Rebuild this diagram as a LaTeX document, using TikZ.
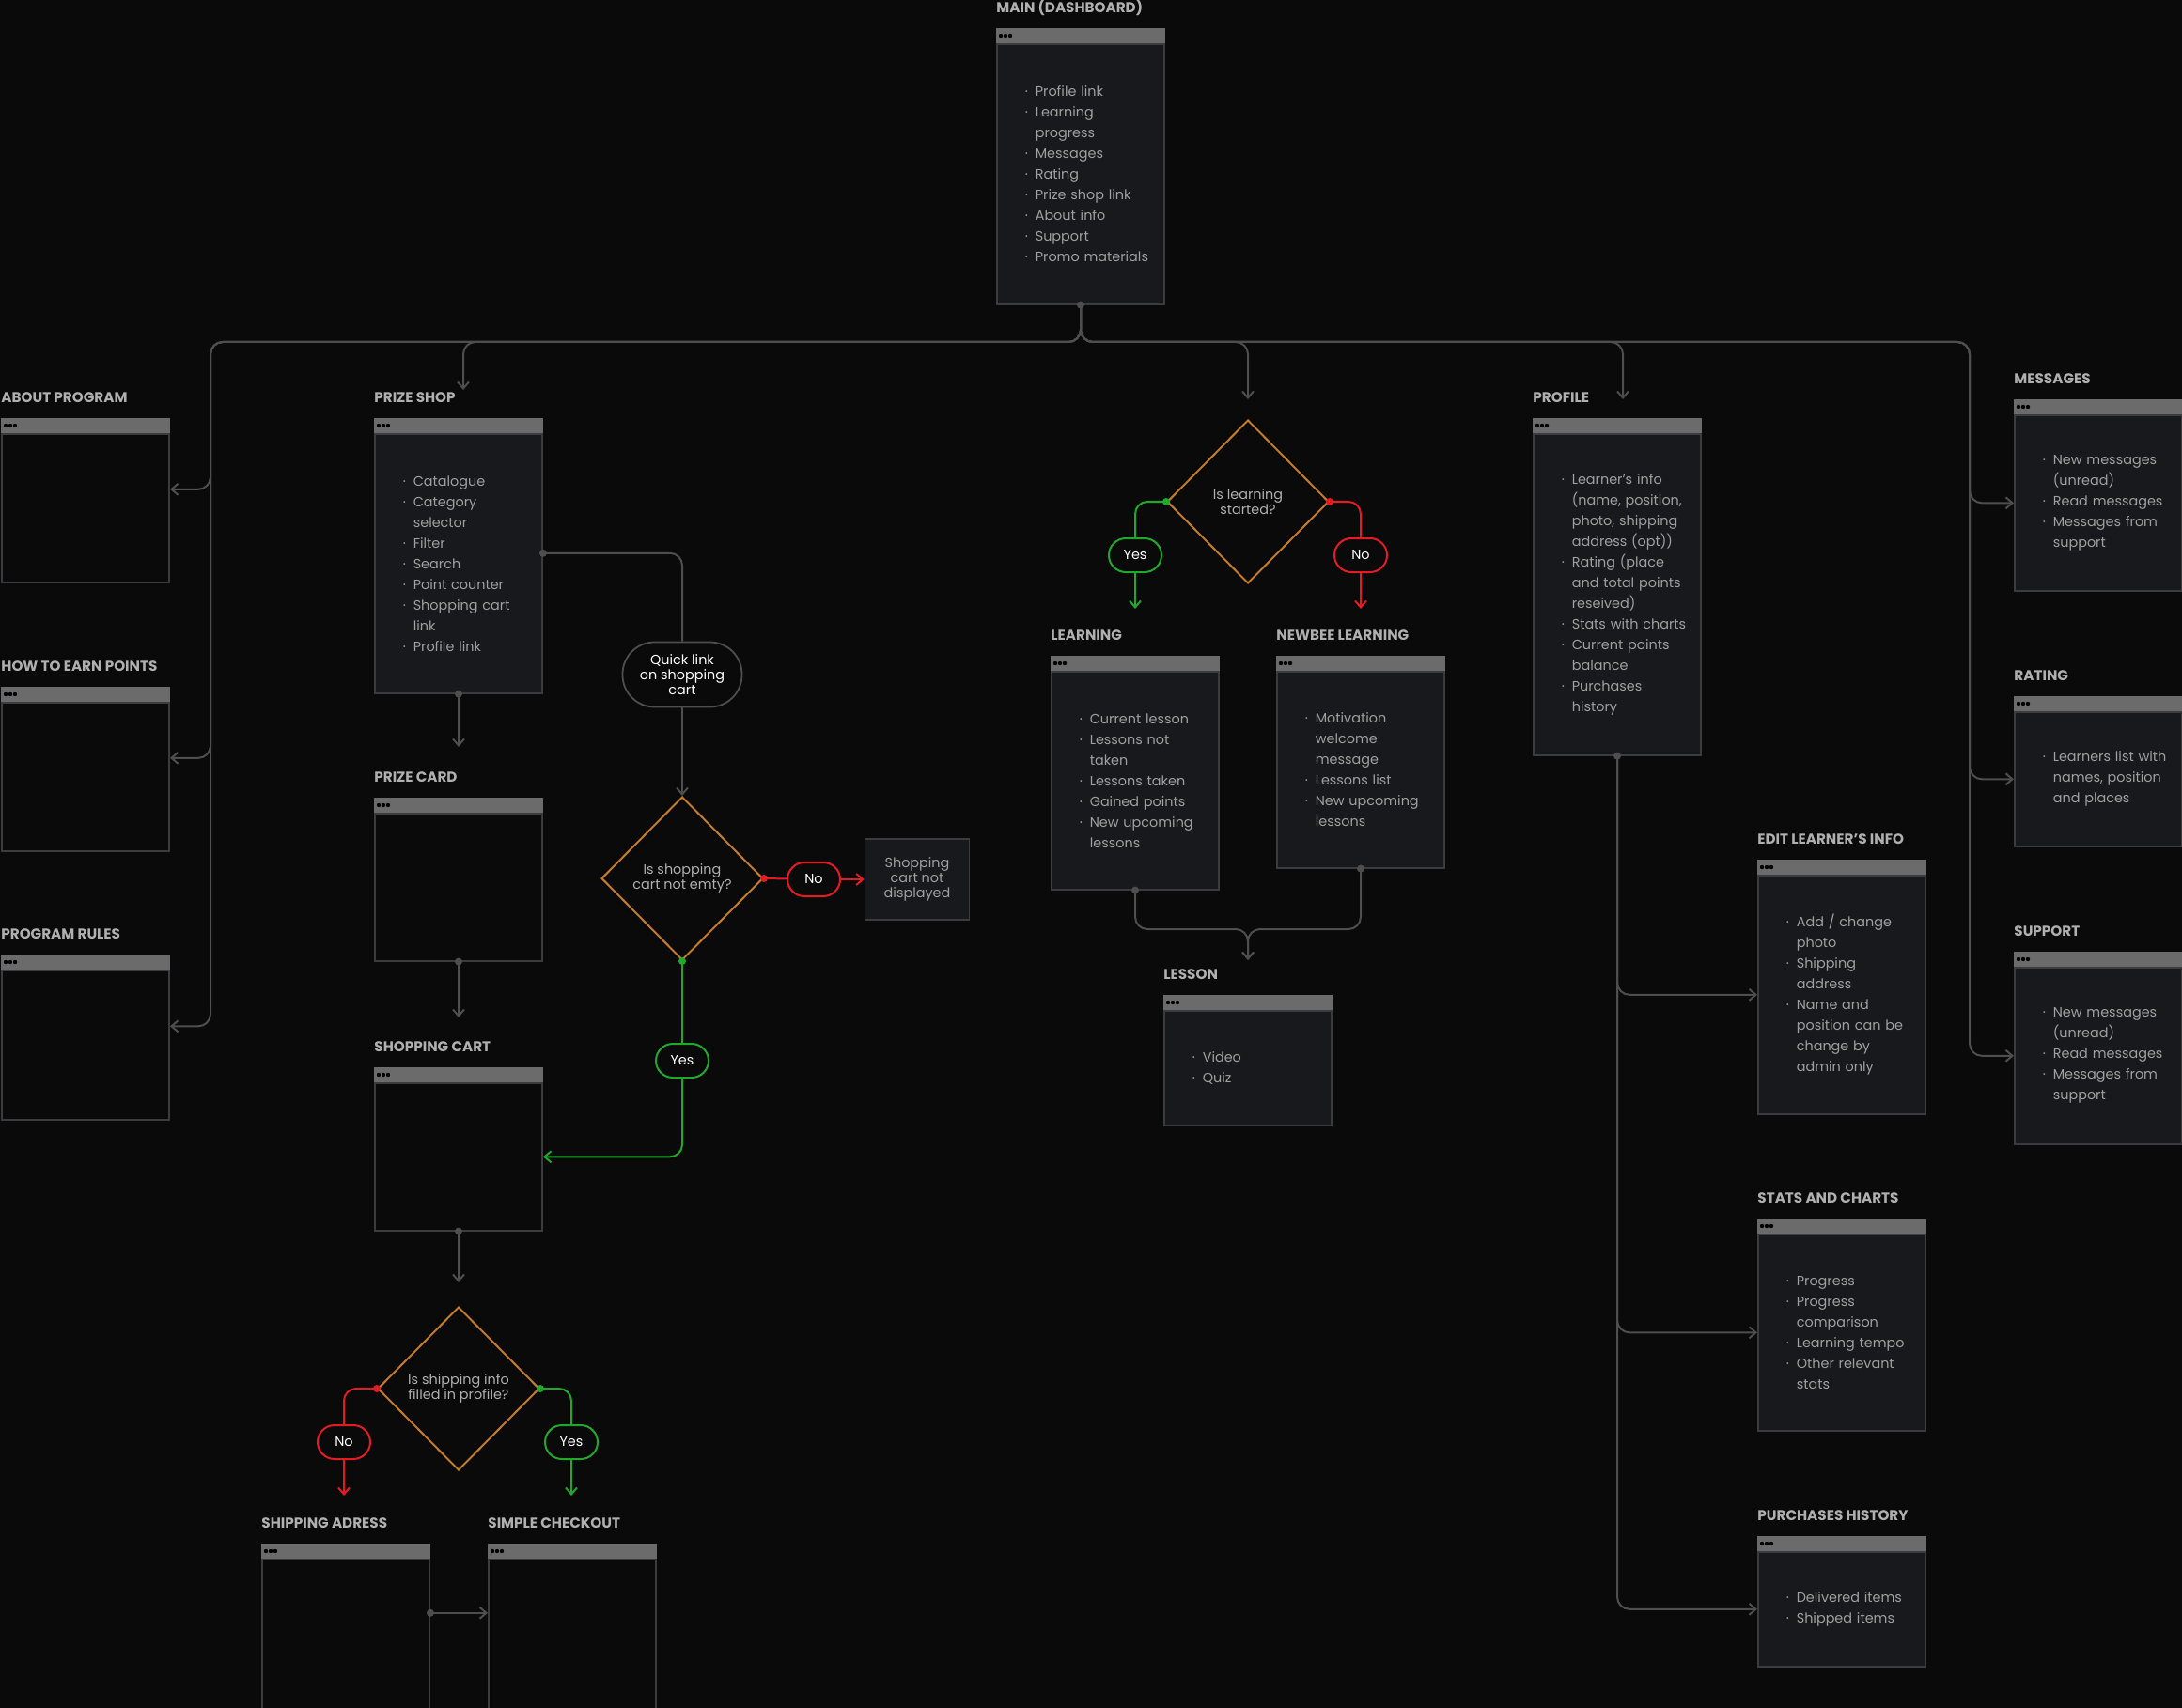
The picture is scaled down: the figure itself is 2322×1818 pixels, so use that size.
\documentclass[tikz,border=0pt]{standalone}
\usepackage{fontspec}
\setmainfont{Poppins}
\usetikzlibrary{positioning, arrows.meta, calc, shapes.geometric}
\definecolor{bg}{HTML}{0A0A0A}
\definecolor{winfill}{HTML}{18191C}
\definecolor{winline}{HTML}{3C3C3E}
\definecolor{barcol}{HTML}{6B6B6B}
\definecolor{linecol}{HTML}{4E4E4E}
\definecolor{ttlcol}{HTML}{B0B0B0}
\definecolor{itemcol}{HTML}{A0A0A0}
\definecolor{decide}{HTML}{C27A2C}
\definecolor{okgreen}{HTML}{1FA82A}
\definecolor{nored}{HTML}{E31B23}
\newcommand{\itm}[1]{\hspace*{15pt}\makebox[5.5pt][l]{·}\mbox{#1}}
\newcommand{\nxt}[1]{\hspace*{20.5pt}\mbox{#1}}
\tikzset{
  win/.style={
    draw=winline, line width=0.8pt, fill=winfill, anchor=north west,
    text width=89.2pt, inner xsep=0pt, inner ysep=0pt, align=left,
    text=itemcol, font=\fontsize{7.2}{11}\selectfont
  },
  emptywin/.style={win, fill=bg},
  ttl/.style={anchor=west, inner sep=0pt, yshift=19pt, text=ttlcol,
    font=\fontsize{7.6}{9}\selectfont\bfseries},
  decision/.style={diamond, draw=decide, line width=1pt, inner sep=0pt,
    minimum width=86pt, minimum height=87pt, align=center, text=ttlcol,
    font=\fontsize{7.2}{8}\selectfont},
  pill/.style={draw=#1, fill=bg, line width=1pt, rounded corners=9pt,
    minimum width=28pt, minimum height=18pt, inner sep=0pt, text=white,
    font=\fontsize{7.2}{9}\selectfont},
  quicklink/.style={draw=linecol, fill=bg, line width=0.9pt, rounded corners=17pt,
    minimum width=63.5pt, minimum height=34.5pt, inner sep=0pt, align=center,
    text=white, font=\fontsize{7.2}{8}\selectfont},
  note/.style={draw=winline, fill=winfill, line width=0.8pt, minimum width=55.5pt,
    minimum height=43pt, inner sep=0pt, align=center, text=itemcol,
    font=\fontsize{7.2}{8}\selectfont},
  line/.style={draw=linecol, line width=1pt, rounded corners=6.5pt},
  flow/.style={line, -{Straight Barb[length=3.5pt, width=6pt]}},
  yline/.style={line, draw=okgreen},
  ytip/.style={flow, draw=okgreen},
  nline/.style={line, draw=nored},
  ntip/.style={flow, draw=nored},
}

\begin{document}
\begin{tikzpicture}[x=0.5pt, y=-0.5pt]
  \fill[bg] (0,0) rectangle (2322,1818);
  \useasboundingbox (0,0) rectangle (2322,1818);

  % screens
  \node[win, minimum height=138.5pt, label={[ttl, name=main-t]north west:MAIN (DASHBOARD)}] (main) at (1060,46)
    {\itm{Profile link}\\ \itm{Learning}\\ \nxt{progress}\\ \itm{Messages}\\ \itm{Rating}\\
     \itm{Prize shop link}\\ \itm{About info}\\ \itm{Support}\\ \itm{Promo materials}};

  \node[emptywin, minimum height=79pt, label={[ttl, name=about-t]north west:ABOUT PROGRAM}] (about) at (1,461) {};
  \node[emptywin, minimum height=79pt, label={[ttl, name=howto-t]north west:HOW TO EARN POINTS}] (howto) at (1,747) {};
  \node[emptywin, minimum height=79.5pt, label={[ttl, name=rules-t]north west:PROGRAM RULES}] (rules) at (1,1032) {};

  \node[win, minimum height=138pt, label={[ttl, name=prize-t]north west:PRIZE SHOP}] (prize) at (398,461)
    {\itm{Catalogue}\\ \itm{Category}\\ \nxt{selector}\\ \itm{Filter}\\ \itm{Search}\\
     \itm{Point counter}\\ \itm{Shopping cart}\\ \nxt{link}\\ \itm{Profile link}};
  \node[emptywin, minimum height=78.5pt, label={[ttl, name=card-t]north west:PRIZE CARD}] (card) at (398,865) {};
  \node[emptywin, minimum height=78.5pt, label={[ttl, name=cart-t]north west:SHOPPING CART}] (cart) at (398,1152) {};
  \node[emptywin, minimum height=90.5pt, label={[ttl, name=ship-t]north west:SHIPPING ADRESS}] (ship) at (278,1659) {};
  \node[emptywin, minimum height=90.5pt, label={[ttl, name=chk-t]north west:SIMPLE CHECKOUT}] (chk) at (519,1659) {};

  \node[win, minimum height=116pt, label={[ttl, name=learn-t]north west:LEARNING}] (learn) at (1118,714)
    {\itm{Current lesson}\\ \itm{Lessons not}\\ \nxt{taken}\\ \itm{Lessons taken}\\
     \itm{Gained points}\\ \itm{New upcoming}\\ \nxt{lessons}};
  \node[win, minimum height=104.5pt, label={[ttl, name=newbee-t]north west:NEWBEE LEARNING}] (newbee) at (1358,714)
    {\itm{Motivation}\\ \nxt{welcome}\\ \nxt{message}\\ \itm{Lessons list}\\
     \itm{New upcoming}\\ \nxt{lessons}};
  \node[win, minimum height=61pt, label={[ttl, name=lesson-t]north west:LESSON}] (lesson) at (1238,1075)
    {\itm{Video}\\ \itm{Quiz}};

  \node[win, minimum height=171pt, label={[ttl, name=profile-t]north west:PROFILE}] (profile) at (1631,461)
    {\itm{Learner's info}\\ \nxt{(name, position,}\\ \nxt{photo, shipping}\\ \nxt{address (opt))}\\
     \itm{Rating (place}\\ \nxt{and total points}\\ \nxt{reseived)}\\ \itm{Stats with charts}\\
     \itm{Current points}\\ \nxt{balance}\\ \itm{Purchases}\\ \nxt{history}};
  \node[win, minimum height=127pt, label={[ttl, name=edit-t]north west:EDIT LEARNER’S INFO}] (edit) at (1870,931)
    {\itm{Add / change}\\ \nxt{photo}\\ \itm{Shipping}\\ \nxt{address}\\ \itm{Name and}\\
     \nxt{position can be}\\ \nxt{change by}\\ \nxt{admin only}};
  \node[win, minimum height=104.5pt, label={[ttl, name=stats-t]north west:STATS AND CHARTS}] (stats) at (1870,1313)
    {\itm{Progress}\\ \itm{Progress}\\ \nxt{comparison}\\ \itm{Learning tempo}\\
     \itm{Other relevant}\\ \nxt{stats}};
  \node[win, minimum height=61pt, label={[ttl, name=purch-t]north west:PURCHASES HISTORY}] (purch) at (1870,1651)
    {\itm{Delivered items}\\ \itm{Shipped items}};

  \node[win, minimum height=93.5pt, label={[ttl, name=msg-t]north west:MESSAGES}] (msg) at (2143,441)
    {\itm{New messages}\\ \nxt{(unread)}\\ \itm{Read messages}\\ \itm{Messages from}\\ \nxt{support}};
  \node[win, minimum height=71.5pt, label={[ttl, name=rating-t]north west:RATING}] (rating) at (2143,757)
    {\itm{Learners list with}\\ \nxt{names, position}\\ \nxt{and places}};
  \node[win, minimum height=94pt, label={[ttl, name=support-t]north west:SUPPORT}] (support) at (2143,1029)
    {\itm{New messages}\\ \nxt{(unread)}\\ \itm{Read messages}\\ \itm{Messages from}\\ \nxt{support}};

  % title bars
  \foreach \w in {main,about,howto,rules,prize,card,cart,ship,chk,learn,newbee,lesson,profile,edit,stats,purch,msg,rating,support}{
    \fill[barcol] (\w.north west) rectangle ($(\w.north east)+(0,-16)$);
    \foreach \d in {5,10,15} \fill[black] ($(\w.north west)+(\d,-8)$) circle (1.1pt);
  }

  % decisions
  \node[quicklink] (quick) at (726,718) {Quick link\\on shopping\\cart};
  \node[decision] (dia1) at (726,935) {Is shopping\\cart not emty?};
  \node[pill=nored] (no1) at (866,936) {No};
  \node[note] (nocart) at (976,936) {Shopping\\cart not\\displayed};
  \node[pill=okgreen] (yes1) at (726,1129) {Yes};

  \node[decision] (dia2) at (1328,534) {Is learning\\started?};
  \node[pill=okgreen] (yes2) at (1208,591) {Yes};
  \node[pill=nored] (no2) at (1448,591) {No};

  \node[decision] (dia3) at (488,1478) {Is shipping info\\filled in profile?};
  \node[pill=nored] (no3) at (366,1535) {No};
  \node[pill=okgreen] (yes3) at (608,1535) {Yes};

  % bus and free ends
  \coordinate (busL) at (224,364);
  \coordinate (busP) at (493,364);
  \coordinate (busD) at (1328,364);
  \coordinate (busF) at (1727,364);
  \coordinate (busR) at (2096,364);
  \coordinate (prize-in) at (493,415);
  \coordinate (dec-in) at (1328,425);
  \coordinate (prof-in) at (1727,425);
  \coordinate (card-in) at (488,795);
  \coordinate (cart-in) at (488,1083);
  \coordinate (dia3-in) at (488,1365);
  \coordinate (learn-in) at (1208,648);
  \coordinate (newb-in) at (1448,648);
  \coordinate (join) at (1328,989);
  \coordinate (lesson-in) at (1328,1022);
  \coordinate (ship-in) at (366,1592);
  \coordinate (chk-in) at (608,1592);

  % main menu
  \draw[flow] (main.south) |- (busL) |- ([yshift=10pt]about.east);
  \draw[flow] (main.south) |- (busL) |- ([yshift=10pt]howto.east);
  \draw[flow] (main.south) |- (busL) |- ([yshift=10pt]rules.east);
  \draw[flow] (main.south) |- (busP) -- (prize-in);
  \draw[flow] (main.south) |- (busD) -- (dec-in);
  \draw[flow] (main.south) |- (busF) -- (prof-in);
  \draw[flow] (main.south) |- (busR) |- (msg.west);
  \draw[flow] (main.south) |- (busR) |- (rating.west);
  \draw[flow] (main.south) |- (busR) |- (support.west);

  % shop
  \draw[flow] (prize.south) -- (card-in);
  \draw[flow] (card.south) -- (cart-in);
  \draw[line] ([yshift=5.5pt]prize.east) -| (quick.north);
  \draw[flow] (quick.south) -- (dia1.north);
  \draw[nline] (dia1.east) -- (no1);
  \draw[ntip] (no1) -- (nocart);
  \draw[yline] (dia1.south) -- (yes1);
  \draw[ytip] (yes1) |- (cart.east);
  \draw[flow] (cart.south) -- (dia3-in);
  \draw[nline] (dia3.west) -| (no3);
  \draw[ntip] (no3) -- (ship-in);
  \draw[yline] (dia3.east) -| (yes3);
  \draw[ytip] (yes3) -- (chk-in);
  \draw[flow] ([yshift=16.75pt]ship.east) -- ([yshift=16.75pt]chk.west);

  % learning
  \draw[yline] (dia2.west) -| (yes2);
  \draw[ytip] (yes2) -- (learn-in);
  \draw[nline] (dia2.east) -| (no2);
  \draw[ntip] (no2) -- (newb-in);
  \draw[flow] (learn.south) |- (join) -- (lesson-in);
  \draw[flow] (newbee.south) |- (join) -- (lesson-in);

  % profile
  \draw[flow] (profile.south) |- (edit.west);
  \draw[flow] (profile.south) |- (stats.west);
  \draw[flow] (profile.south) |- (purch.west);

  % start dots
  \foreach \p in {main.south, prize.south, card.south, cart.south, learn.south, newbee.south, profile.south}
    \fill[linecol] (\p) circle (2pt);
  \fill[linecol] ([yshift=5.5pt]prize.east) circle (2pt);
  \fill[linecol] ([yshift=16.75pt]ship.east) circle (2pt);
  \foreach \p in {dia1.south, dia2.west, dia3.east}
    \fill[okgreen] (\p) circle (2pt);
  \foreach \p in {dia1.east, dia2.east, dia3.west}
    \fill[nored] (\p) circle (2pt);
\end{tikzpicture}
\end{document}
